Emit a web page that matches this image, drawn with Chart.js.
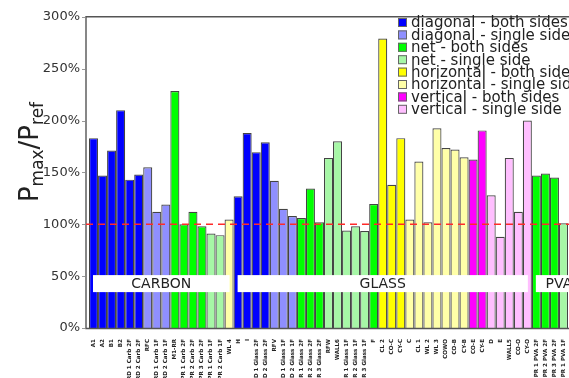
<!DOCTYPE html>
<html>
<head>
<meta charset="utf-8">
<script src="https://cdn.jsdelivr.net/npm/chart.js@4"></script>
<style>
  html, body { margin: 0; padding: 0; background: #fff; overflow: hidden; }
  #wrap { width: 575px; height: 378px; }
</style>
</head>
<body>
<div id="wrap"><canvas id="c"></canvas></div>
<script>
// ─── Data ─────────────────────────────────────────────────────────
const labels = [
  'A1', 'A2', 'B1', 'B2', 'RD 1 Carb 2F', 'RD 2 Carb 2F', 'RFC', 'RD 1 Carb 1F', 'RD 2 Carb 1F',
  'M1-RR', 'PR 1 Carb 2F', 'PR 2 Carb 2F', 'PR 3 Carb 2F', 'PR 1 Carb 1F', 'PR 2 Carb 1F', 'WL 4',
  'H', 'I', 'RD 1 Glass 2F', 'RD 2 Glass 2F', 'RFV', 'RD 1 Glass 1F', 'RD 2 Glass 1F',
  'PR 1 Glass 2F', 'PR 2 Glass 2F', 'PR 3 Glass 2F', 'RFW', 'WALL6', 'PR 1 Glass 1F', 'PR 2 Glass 1F',
  'PR 3 Glass 1F', 'F', 'CL 2', 'CO-C', 'CY-C', 'C', 'CL 1', 'WL 2', 'WL 3', 'COWO', 'CO-B', 'CY-B',
  'CO-E', 'CY-E', 'D', 'E', 'WALL5', 'CO-O', 'CY-O',
  'PR 1 PVA 2F', 'PR 2 PVA 2F', 'PR 3 PVA 2F', 'PR 1 PVA 1F'
];

// Pmax/Pref in %
const values = [
  183, 147, 171, 210, 143, 148, 155, 112, 119,
  228.5, 100, 112, 98, 91, 89.5, 104.5,
  127, 188, 169.5, 179, 142, 115, 108,
  106, 134.5, 102, 164, 180, 94, 98,
  93.5, 119.5, 279, 138, 183, 104.5, 160.5, 102, 192.5, 173.5, 172, 164.5,
  162.5, 190.5, 128, 88, 164, 112, 200,
  147, 149, 145, 101
];

// index into seriesNames for each bar
const types = [
  0, 0, 0, 0, 0, 0, 1, 1, 1,
  2, 2, 2, 2, 3, 3, 5,
  0, 0, 0, 0, 1, 1, 1,
  2, 2, 2, 3, 3, 3, 3,
  3, 2, 4, 4, 4, 5, 5, 5, 5, 5, 5, 5,
  6, 6, 7, 7, 7, 7, 7,
  2, 2, 2, 3
];

const seriesNames = [
  'diagonal - both sides', 'diagonal - single side',
  'net - both sides', 'net - single side',
  'horizontal - both sides', 'horizontal - single side',
  'vertical - both sides', 'vertical - single side'
];
const seriesColors = ['#0000ff', '#8f8fff', '#00ff00', '#a6f7a6', '#ffff00', '#ffffa8', '#ff00ff', '#ffbfff'];

const groupNames = ['CARBON', 'GLASS', 'PVA'];
const groupStart = [0, 16, 49];
const groupEnd   = [15, 48, 54];   // PVA runs on past the cropped edge

const refValue = 100;
const yTicks = [0, 50, 100, 150, 200, 250, 300];

const FONT = "'DejaVu Sans', Verdana, sans-serif";

// ─── Overlay: frame, reference line, group tags ───────────────────
const overlay = {
  id: 'overlay',
  afterDatasetsDraw(chart) {
    const { ctx, chartArea: a, scales: { x, y } } = chart;
    const half = (a.right - a.left) / labels.length / 2;

    ctx.save();
    // frame
    ctx.strokeStyle = '#555';
    ctx.lineWidth = 1.4;
    ctx.beginPath();
    ctx.moveTo(a.right + 20, a.top);
    ctx.lineTo(a.left - 3, a.top);
    ctx.lineTo(a.left - 3, a.bottom + 0.5);
    ctx.lineTo(a.right + 20, a.bottom + 0.5);
    ctx.stroke();

    // small outward ticks on the y axis
    ctx.strokeStyle = '#999';
    ctx.lineWidth = 1;
    yTicks.forEach(v => {
      const py = Math.round(y.getPixelForValue(v)) + 0.5;
      ctx.beginPath();
      ctx.moveTo(a.left - 4, py);
      ctx.lineTo(a.left - 7, py);
      ctx.stroke();
    });

    // 100 % line
    const yr = y.getPixelForValue(refValue);
    ctx.strokeStyle = '#ff2a2a';
    ctx.lineWidth = 1.5;
    ctx.setLineDash([7, 5]);
    ctx.beginPath();
    ctx.moveTo(a.left - 3, yr);
    ctx.lineTo(a.right + 20, yr);
    ctx.stroke();
    ctx.setLineDash([]);

    // group tags
    const top = y.getPixelForValue(51), bot = y.getPixelForValue(34.6);
    ctx.font = `14px ${FONT}`;
    ctx.textAlign = 'center';
    ctx.textBaseline = 'middle';
    groupNames.forEach((g, i) => {
      const l = x.getPixelForValue(groupStart[i]) - half + 4;
      const r = x.getPixelForValue(groupEnd[i]) + half - 4;
      ctx.fillStyle = '#fff';
      ctx.fillRect(l, top, r - l, bot - top);
      ctx.fillStyle = '#222';
      ctx.fillText(g, (l + r) / 2, (top + bot) / 2 + 1);
    });
    ctx.restore();
  },
  afterDraw(chart) {
    const { ctx } = chart;
    ctx.save();

    // legend
    ctx.font = `15px ${FONT}`;
    ctx.textBaseline = 'middle';
    ctx.textAlign = 'left';
    seriesNames.forEach((n, i) => {
      const cy = 22.5 + i * 12.4;
      ctx.fillStyle = seriesColors[i];
      ctx.fillRect(398, cy - 4.5, 9, 9);
      ctx.strokeStyle = '#666';
      ctx.lineWidth = 1;
      ctx.strokeRect(398.5, cy - 4, 8, 8);
      ctx.fillStyle = '#222';
      ctx.fillText(n, 411, cy + 1);
    });

    // y title  P_max / P_ref
    const parts = [['P', 26, 0], ['max', 17, 5], ['/', 26, 0], ['P', 26, 0], ['ref', 17, 5]];
    let w = 0;
    parts.forEach(p => { ctx.font = `${p[1]}px ${FONT}`; w += ctx.measureText(p[0]).width; });
    ctx.translate(38, 152 + w / 2);
    ctx.rotate(-Math.PI / 2);
    ctx.textBaseline = 'alphabetic';
    ctx.fillStyle = '#222';
    let cx = 0;
    parts.forEach(p => {
      ctx.font = `${p[1]}px ${FONT}`;
      ctx.fillText(p[0], cx, p[2]);
      cx += ctx.measureText(p[0]).width;
    });
    ctx.restore();
  }
};

// ─── Chart ────────────────────────────────────────────────────────
new Chart(document.getElementById('c'), {
  type: 'bar',
  data: {
    labels,
    datasets: seriesNames.map((name, k) => ({
      label: name,
      data: values.map((v, i) => (types[i] === k ? v : null)),
      backgroundColor: seriesColors[k],
      borderColor: '#444',
      borderWidth: 1.2,
      inflateAmount: 0,
      barPercentage: 1,
      categoryPercentage: 1,
      grouped: false,
    })),
  },
  options: {
    responsive: true,
    maintainAspectRatio: false,
    animation: false,
    elements: { bar: { borderWidth: 1.2, borderColor: '#444', inflateAmount: 0 } },
    layout: { padding: { top: 16, right: 7, bottom: 0, left: 0 } },
    plugins: { legend: { display: false }, tooltip: { enabled: false } },
    scales: {
      x: {
        grid: { display: false },
        border: { display: false },
        ticks: {
          autoSkip: false, minRotation: 90, maxRotation: 90, padding: 3,
          color: '#222', font: { family: FONT, size: 5.6, weight: 'bold' },
        },
        afterFit: s => { s.height = 50; },
      },
      y: {
        min: 0, max: 300,
        afterBuildTicks: s => { s.ticks = yTicks.map(v => ({ value: v })); },
        grid: { display: false, drawTicks: false },
        border: { display: false },
        ticks: {
          padding: 9, color: '#333',
          font: { family: FONT, size: 13 },
          callback: v => v + '%',
        },
        afterFit: s => { s.width = 89; },
      },
    },
  },
  plugins: [overlay],
});
</script>
</body>
</html>
